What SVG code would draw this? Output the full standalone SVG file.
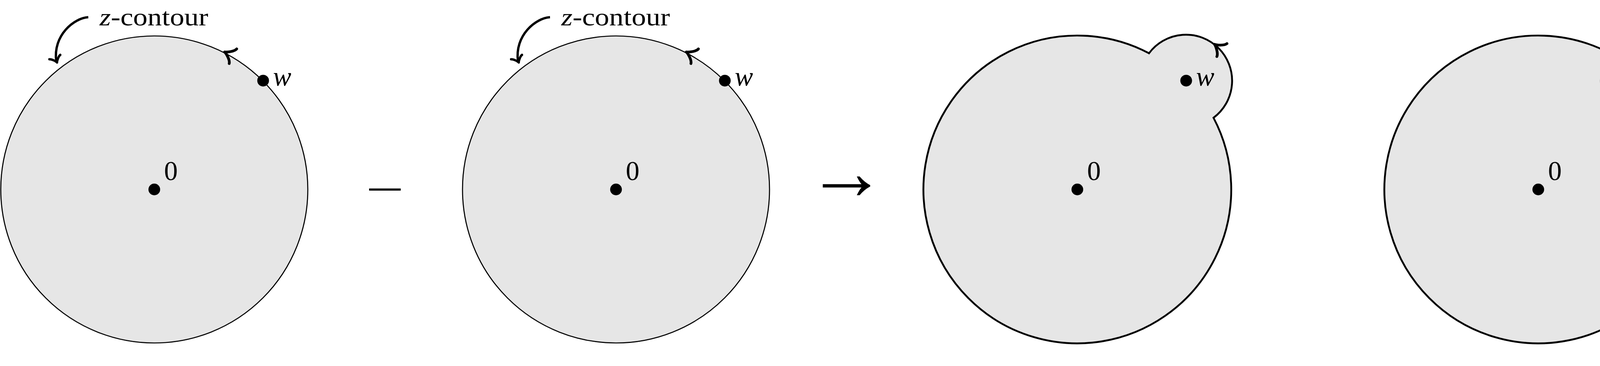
<svg xmlns="http://www.w3.org/2000/svg" width="5125" height="937" viewBox="0 0 5125 937">
<style>
.disk{fill:#e6e6e6;stroke:#000;stroke-width:2.7}
.gray{fill:#e6e6e6;stroke:none}
.hole{fill:#fff;stroke:none}
.contour{fill:none;stroke:#000;stroke-width:4.7;stroke-linejoin:miter}
.tip{fill:none;stroke:#000;stroke-width:7;stroke-linecap:round;stroke-linejoin:round}
.ptr{fill:none;stroke:#000;stroke-width:6;stroke-linecap:butt}
.ptrtip{fill:none;stroke:#000;stroke-width:6;stroke-linecap:round;stroke-linejoin:round}
.dot{fill:#000}
.lbl{font-family:"Liberation Serif",serif;font-size:70px;fill:#000}
.cap{font-family:"Liberation Serif",serif;font-size:64px;fill:#000}
.it{font-style:italic}
.op{font-family:"Liberation Serif",serif;fill:#000;text-anchor:middle}
</style>
<defs>
<path id="tip" d="M-24,-21 C-22,-12 -5,-1.5 0,0 C-5,1.5 -22,12 -24,21"/>
<path id="tipS" d="M-15,-15 C-13.5,-9 -3,-1 0,0 C-3,1 -13.5,9 -15,15"/>
</defs>
<rect width="5125" height="937" fill="#fff"/>

<g id="panel1">
<circle cx="395" cy="485" r="393" class="disk"/>
<use href="#tip" class="tip" transform="translate(575,133) rotate(-152.9)"/>
<circle cx="395" cy="485" r="15" class="dot"/>
<circle cx="673.6" cy="206.4" r="15" class="dot"/>
<text x="420" y="461" class="lbl">0</text>
<text x="699" y="219" class="lbl it">w</text>
<text x="255" y="65" class="cap" textLength="278" lengthAdjust="spacingAndGlyphs"><tspan class="it">z</tspan>-contour</text>
</g>

<g id="op-minus-1">
<text transform="translate(985.5,485) scale(1,0.65)" x="0" y="58.5" class="op" font-size="174">−</text>
</g>

<g id="panel2">
<circle cx="1577" cy="485" r="393" class="disk"/>
<use href="#tip" class="tip" transform="translate(1757,133) rotate(-152.9)"/>
<circle cx="1577" cy="485" r="15" class="dot"/>
<circle cx="1855.6" cy="206.4" r="15" class="dot"/>
<text x="1602" y="461" class="lbl">0</text>
<text x="1881" y="219" class="lbl it">w</text>
<text x="1437" y="65" class="cap" textLength="278" lengthAdjust="spacingAndGlyphs"><tspan class="it">z</tspan>-contour</text>
</g>

<g id="op-arrow">
<text x="2167" y="510" class="op" font-size="205">→</text>
</g>

<g id="panel3">
<path class="gray" d="M2941.5,136.4 A394,394 0 1 0 3106.6,301.5 A118,118 0 1 0 2941.5,136.4 Z"/>
<path class="contour" d="M2941.5,136.4 A394,394 0 1 0 3106.6,301.5 A118,118 0 1 0 2941.5,136.4 Z"/>
<use href="#tip" class="tip" transform="translate(3109.2,113.4) rotate(-142)"/>
<circle cx="2758" cy="485" r="15" class="dot"/>
<circle cx="3036.6" cy="206.4" r="15" class="dot"/>
<text x="2783" y="461" class="lbl">0</text>
<text x="3062" y="219" class="lbl it">w</text>
</g>

<g id="op-minus-2">
<text transform="translate(4166,485) scale(1,0.65)" x="0" y="58.5" class="op" font-size="174">−</text>
</g>

<g id="panel4">
<circle cx="3938" cy="485" r="394" class="gray"/>
<circle cx="4216.6" cy="206.4" r="118" class="hole"/>
<path class="contour" d="M4121.5,136.4 A394,394 0 1 0 4286.6,301.5 A118,118 0 0 1 4121.5,136.4"/>
<use href="#tip" class="tip" transform="translate(4118.6,272) rotate(-123.8)"/>
<circle cx="3938" cy="485" r="15" class="dot"/>
<circle cx="4216.6" cy="206.4" r="15" class="dot"/>
<text x="3963" y="461" class="lbl">0</text>
<text x="4242" y="219" class="lbl it">w</text>
</g>

<g id="op-equals">
<text transform="translate(4528.5,474) scale(1,0.76)" x="0" y="44.5" class="op" font-size="178">=</text>
</g>

<g id="panel5">
<circle cx="5004.6" cy="206.4" r="118" class="disk"/>
<use href="#tip" class="tip" transform="translate(5077.2,113.4) rotate(-142)"/>
<circle cx="4726" cy="485" r="15" class="dot"/>
<circle cx="5004.6" cy="206.4" r="15" class="dot"/>
<text x="4751" y="461" class="lbl">0</text>
<text x="5030" y="219" class="lbl it">w</text>
</g>

<g id="connectors">
<path class="ptr" d="M226,44 C190,46 135,90 144,157"/>
<use href="#tipS" class="ptrtip" transform="translate(146,160) rotate(68)"/>
<path class="ptr" d="M1408,44 C1372,46 1317,90 1326,157"/>
<use href="#tipS" class="ptrtip" transform="translate(1328,160) rotate(68)"/>
</g>
</svg>
